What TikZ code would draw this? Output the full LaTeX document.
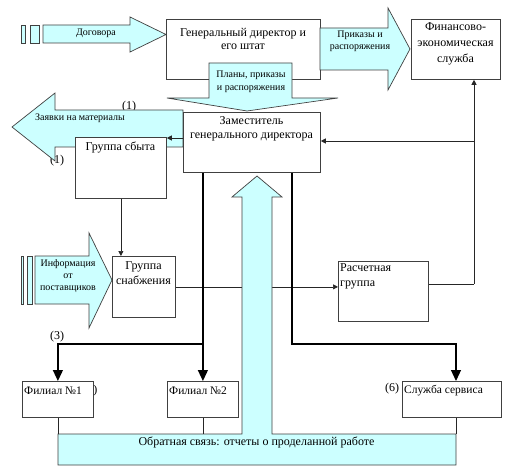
\documentclass[tikz,border=0pt]{standalone}
\usepackage{fontspec}
\setmainfont{Liberation Serif}
\usetikzlibrary{arrows.meta}
\definecolor{cy}{HTML}{CCFFFF}
\definecolor{ln}{HTML}{404040}
\begin{document}
\begin{tikzpicture}[x=1pt,y=-1pt,
  box/.style={draw=ln, fill=white, line width=0.8pt, inner sep=0pt, anchor=north west},
  shp/.style={draw=ln, fill=cy, line width=0.7pt, line join=miter},
  big/.style={font=\fontsize{12}{14}\selectfont, inner sep=0pt, align=center},
  fil/.style={font=\fontsize{11.5}{13}\selectfont, inner sep=0pt, anchor=west},
  sml/.style={font=\fontsize{10}{12}\selectfont, inner sep=0pt, align=center},
  conn/.style={draw=black!85, line width=0.7pt},
  tip/.style={-{Triangle[width=5pt,length=5pt]}},
  thk/.style={line width=1.2pt, black, -{Triangle[width=10pt,length=11pt]},
    preaction={draw, gray!55, line width=2.8pt, -, shorten >=10pt}},
]
\useasboundingbox (0,0) rectangle (511,473);
\fill[white] (0,0) rectangle (511,473);

% hidden labels (partly covered)
\node[big] (n1a) at (129,107) {(1)};
\node[big] (n1b) at (57,161) {(1)};
\node[big, anchor=east] (n2) at (97.5,391) {(2)};

% top boxes
\node[box, minimum width=154pt, minimum height=60pt] (gen) at (166,19) {};
\node[big, font=\fontsize{12}{13}\selectfont] (gent) at (243,38.5) {Генеральный директор и\\его штат};
\node[box, minimum width=89pt, minimum height=60pt] (fin) at (411,19) {};
\node[big, font=\fontsize{12}{16}\selectfont] (fint) at (455.5,44) {Финансово-\\экономическая\\служба};

% callout
\draw[shp] (209,63) -- (292,63) -- (292,98) -- (338,98) -- (247,111) -- (167,98) -- (209,98) -- cycle;
\node[sml, font=\fontsize{10}{13}\selectfont] (callt) at (251,81.5) {Планы, приказы\\и распоряжения};

% Prikazy arrow
\draw[shp] (320,28) -- (388,28) -- (388,8) -- (410,49) -- (388,90) -- (388,70) -- (320,70) -- cycle;
\node[sml] (prt) at (360,41) {Приказы и\\распоряжения};

% Dogovora arrow
\draw[shp] (21,25) rectangle (25,43);
\draw[shp] (30,25) rectangle (39,43);
\draw[shp] (43,25) -- (130,25) -- (130,17) -- (166,34.5) -- (130,52) -- (130,43) -- (43,43) -- cycle;
\node[sml] (dogt) at (96,33) {Договора};

% Zayavki arrow
\draw[shp] (183,110) -- (55,110) -- (55,93) -- (12,127) -- (55,161) -- (55,147) -- (183,147) -- cycle;
\node[sml] (zayt) at (80,118) {Заявки на материалы};

% deputy and sales
\node[box, minimum width=137pt, minimum height=60pt] (dep) at (183,112) {};
\node[big] (dept) at (251.5,129) {Заместитель\\генерального директора};
\node[box, minimum width=91pt, minimum height=61pt] (sbyta) at (75,137) {};
\node[big] (sbytat) at (120.5,148) {Группа сбыта};

% info arrow
\draw[shp] (21,256) rectangle (23,304);
\draw[shp] (27,256) rectangle (32,304);
\draw[shp] (35,256) -- (89,256) -- (89,233) -- (112,280) -- (89,328) -- (89,304) -- (35,304) -- cycle;
\node[sml] (inft) at (68,276) {Информация\\от\\поставщиков};

\node[box, minimum width=63pt, minimum height=61pt] (snab) at (112,256) {};
\node[big, font=\fontsize{12}{15}\selectfont] (snabt) at (143.5,273.5) {Группа\\снабжения};
\node[box, minimum width=90pt, minimum height=60pt] (rasch) at (338,261) {};
\node[big, font=\fontsize{12}{15}\selectfont, align=left, anchor=north west] (rascht) at (340,263) {Расчетная\\группа};

% thin connectors
\coordinate (fr) at (474,284);
\coordinate (fb) at (474,141);
\coordinate (ds) at (0,138);
\draw[conn] (rasch.east |- fr) -- (fr);
\draw[conn,tip] (fr) -- (fr |- fin.south);
\draw[conn,tip] (fb) -- (fb -| dep.east);
\draw[conn,tip] (dep.west |- ds) -- (sbyta.east |- ds);
\draw[conn,tip] (sbyta.south) -- (sbyta.south |- snab.north);
\draw[conn,tip] (snab.east) -- (rasch.west |- snab.east);

% feedback band with up arrow
\draw[shp] (58,434) -- (242,434) -- (242,197) -- (232,197) -- (257,176) -- (282,197) -- (272,197) -- (272,434) -- (456,434) -- (456,465) -- (58,465) -- cycle;
\node[big] (fbt) at (256.5,442) {Обратная связь: отчеты о проделанной работе};

% bottom boxes
\node[box, minimum width=71pt, minimum height=36pt] (fil1) at (22,381) {};
\node[fil] (fil1t) at (24,391) {Филиал №1};
\node[box, minimum width=71pt, minimum height=36pt] (fil2) at (167,381) {};
\node[fil] (fil2t) at (169,391) {Филиал №2};
\node[box, minimum width=99pt, minimum height=36pt] (serv) at (402,381) {};
\node[fil] (servt) at (404,391) {Служба сервиса};
\node[big] (n3) at (57,337) {(3)};
\node[big] (n6) at (392,389) {(6)};

% thick connectors
\coordinate (l1) at (202.5,344);
\coordinate (r1) at (292,344);
\coordinate (sv) at (456,381);
\coordinate (bt) at (0,434);
\draw[thk] (dep.south -| fil2.north) -- (fil2.north);
\draw[thk] (l1) -| (fil1.north);
\draw[thk] (dep.south -| r1) -- (r1) -| (sv);

% lines to feedback band
\draw[conn] (fil1.south) -- (fil1.south |- bt);
\draw[conn] (fil2.south) -- (fil2.south |- bt);
\draw[conn] (sv |- serv.south) -- (sv |- bt);
\end{tikzpicture}
\end{document}
